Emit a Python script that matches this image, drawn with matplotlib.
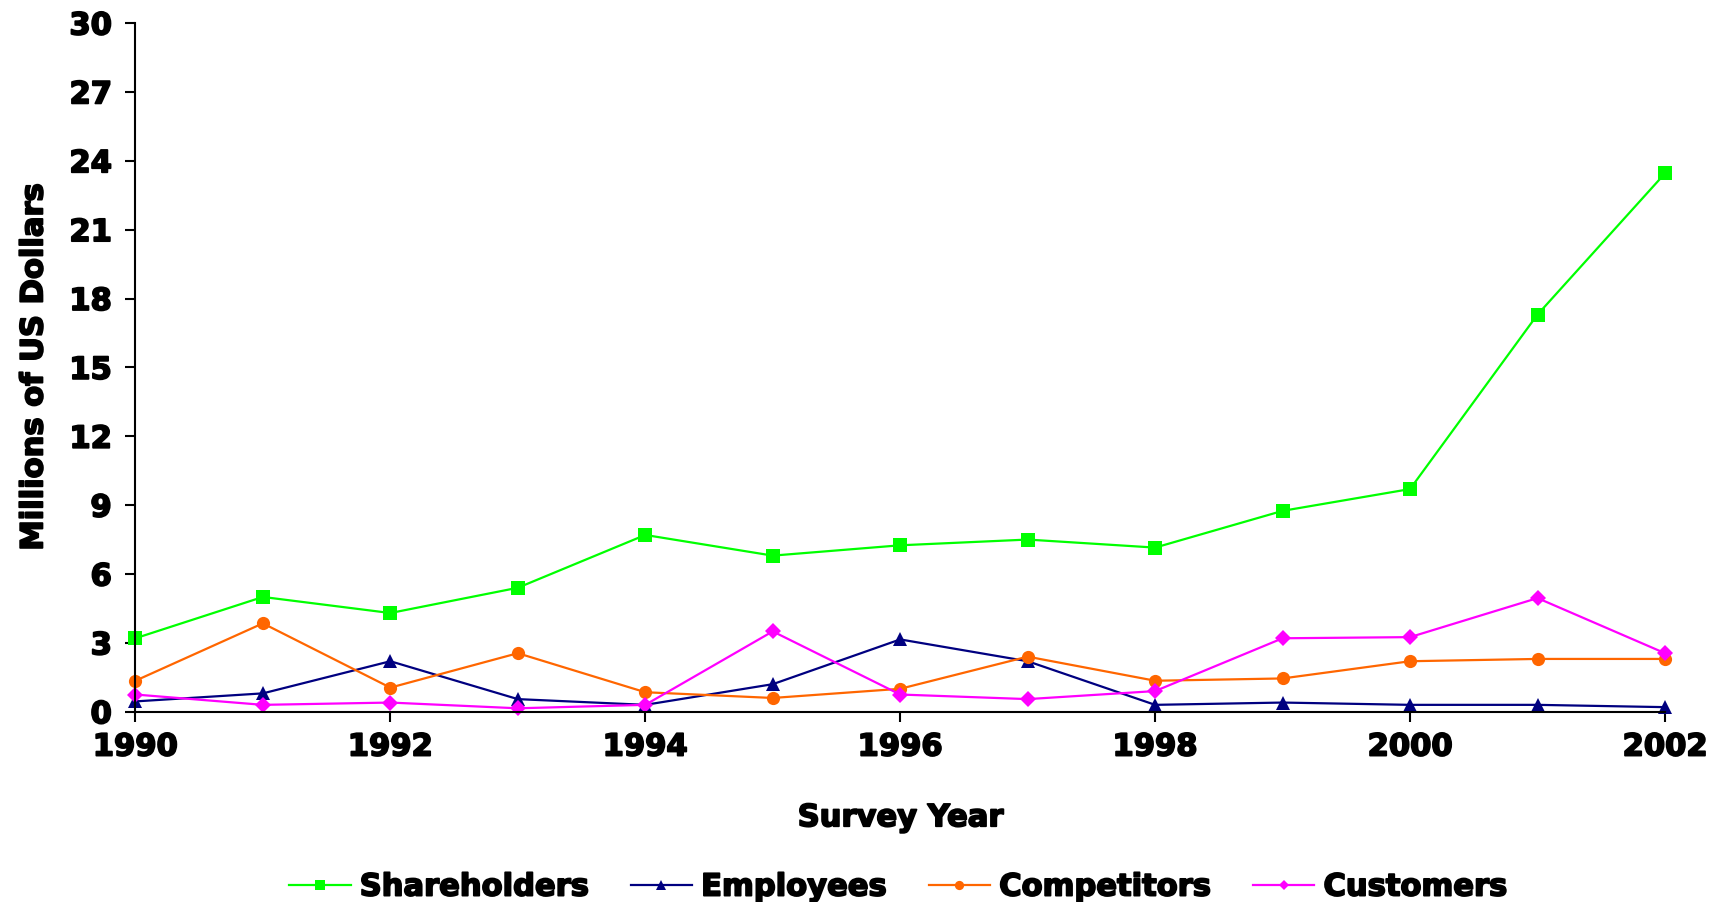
import matplotlib
matplotlib.use("Agg")
import matplotlib.pyplot as plt
import matplotlib.patheffects as pe

# Survey results, millions of US dollars
years = list(range(1990, 2003))
shareholders = [3.2, 5.0, 4.3, 5.4, 7.7, 6.8, 7.25, 7.5, 7.15, 8.75, 9.7, 17.3, 23.45]
employees = [0.45, 0.8, 2.2, 0.55, 0.3, 1.2, 3.15, 2.2, 0.3, 0.4, 0.3, 0.3, 0.2]
competitors = [1.35, 3.85, 1.05, 2.55, 0.85, 0.6, 1.0, 2.4, 1.35, 1.45, 2.2, 2.3, 2.3]
customers = [0.75, 0.3, 0.4, 0.15, 0.3, 3.5, 0.75, 0.55, 0.9, 3.2, 3.25, 4.95, 2.55]

y_ticks = list(range(0, 31, 3))
x_ticks = list(range(1990, 2003, 2))

plt.rcParams["font.family"] = ["DejaVu Sans"]
plt.rcParams["font.weight"] = "bold"

# thicker strokes so the bold face reads close to a black weight
heavy = [pe.withStroke(linewidth=1.3, foreground="black")]
FS = 22

fig = plt.figure(figsize=(17.14, 9.03), dpi=100)
ax = fig.add_axes([0.079, 0.2107, 0.8924, 0.7627])

series = [
    ("Shareholders", shareholders, "#00ff00", "s", 9.5),
    ("Employees", employees, "#000080", "^", 9.5),
    ("Competitors", competitors, "#ff6600", "o", 9.5),
    ("Customers", customers, "#ff00ff", "D", 8),
]
for name, vals, color, marker, ms in series:
    ax.plot(years, vals, color=color, lw=1.6, marker=marker, ms=ms,
            markeredgewidth=0, label=name, clip_on=False)

ax.set_xlim(1990, 2002)
ax.set_ylim(0, 30)
ax.set_xticks(x_ticks)
ax.set_yticks(y_ticks)
ax.tick_params(axis="both", direction="out", length=7, width=1.5,
               labelsize=FS)
ax.tick_params(axis="x", pad=8)
ax.tick_params(axis="y", pad=10)
for lbl in ax.get_xticklabels() + ax.get_yticklabels():
    lbl.set_fontweight("bold")
    lbl.set_path_effects(heavy)

for side in ("top", "right"):
    ax.spines[side].set_visible(False)
for side in ("left", "bottom"):
    ax.spines[side].set_linewidth(1.5)

xl = ax.set_xlabel("Survey Year", fontsize=FS, fontweight="bold", labelpad=30)
yl = ax.set_ylabel("Millions of US Dollars", fontsize=FS, fontweight="bold",
                   labelpad=15)
xl.set_path_effects(heavy)
yl.set_path_effects(heavy)

leg = fig.legend(loc="lower center", bbox_to_anchor=(0.524, -0.03), ncol=4,
                 frameon=False, fontsize=FS, handlelength=2.0,
                 handletextpad=0.3, columnspacing=1.4, markerscale=0.7)
for t in leg.get_texts():
    t.set_fontweight("bold")
    t.set_path_effects(heavy)

fig.savefig("out.png", dpi=100)
